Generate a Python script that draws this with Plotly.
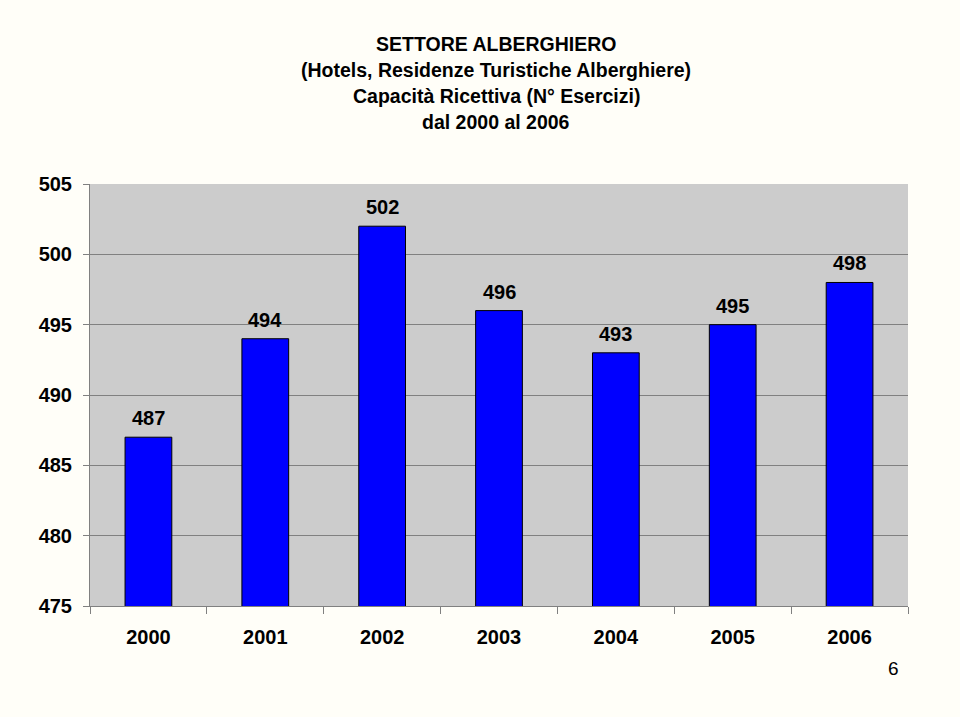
import plotly.graph_objects as go

years = ["2000", "2001", "2002", "2003", "2004", "2005", "2006"]
esercizi = [487, 494, 502, 496, 493, 495, 498]
y_ticks = [475, 480, 485, 490, 495, 500, 505]
title_lines = [
    "SETTORE ALBERGHIERO",
    "(Hotels, Residenze Turistiche Alberghiere)",
    "Capacità Ricettiva (N° Esercizi)",
    "dal 2000 al 2006",
]
page_number = "6"

FONT = "Liberation Sans, Arial, sans-serif"
BG = "#FFFEF8"

fig = go.Figure()
fig.add_trace(go.Bar(
    x=years,
    y=esercizi,
    width=0.4,
    marker=dict(color="#0000FF", line=dict(color="#000000", width=1)),
))

annotations = []
for i, v in enumerate(esercizi):
    annotations.append(dict(
        text=str(v), x=i, y=v, xref="x", yref="y",
        xanchor="center", yanchor="bottom", yshift=6, showarrow=False,
        font=dict(family=FONT, size=20, color="#000000", weight="bold"),
    ))
for i, line in enumerate(title_lines):
    annotations.append(dict(
        text=line, xref="paper", yref="paper",
        x=(496 - 90) / 818, y=(606 - (44 + 26 * i)) / 422,
        xanchor="center", yanchor="middle", showarrow=False,
        font=dict(family=FONT, size=19.5, color="#000000", weight="bold"),
    ))
annotations.append(dict(
    text=page_number, xref="paper", yref="paper",
    x=(893 - 90) / 818, y=(606 - 668) / 422,
    xanchor="center", yanchor="middle", showarrow=False,
    font=dict(family=FONT, size=19, color="#000000"),
))

fig.update_layout(
    width=960, height=717,
    margin=dict(l=90, r=52, t=184, b=111, autoexpand=False),
    paper_bgcolor=BG,
    plot_bgcolor="#CCCCCC",
    showlegend=False,
    bargap=0.6,
    annotations=annotations,
    xaxis=dict(
        type="category",
        categoryorder="array", categoryarray=years,
        range=[-0.5, len(years) - 0.5],
        tickson="boundaries",
        ticks="outside", ticklen=7, tickcolor="#808080", tickwidth=1,
        showline=True, linecolor="#808080", linewidth=1,
        showgrid=False,
        tickfont=dict(family=FONT, size=20, color="#000000", weight="bold"),
        tickangle=0,
        ticklabelstandoff=13,
    ),
    yaxis=dict(
        range=[475, 505],
        tickvals=y_ticks,
        ticks="outside", ticklen=6, tickcolor="#808080", tickwidth=1,
        showline=True, linecolor="#808080", linewidth=1,
        showgrid=True, gridcolor="#808080", gridwidth=1,
        zeroline=False,
        tickfont=dict(family=FONT, size=20, color="#000000", weight="bold"),
        ticklabelstandoff=7,
    ),
)

fig.write_html("out.html")
